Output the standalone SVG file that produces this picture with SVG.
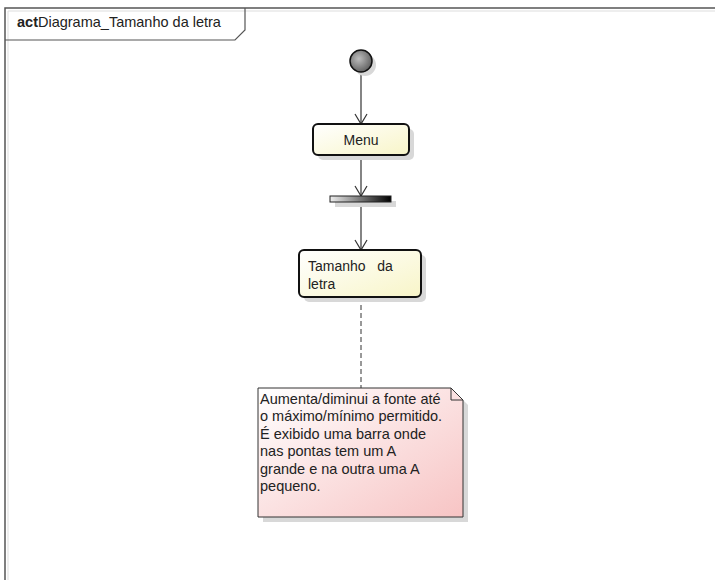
<svg xmlns="http://www.w3.org/2000/svg" width="715" height="580" viewBox="0 0 715 580">
  <style>
    text { font-family: "Liberation Sans", Arial, sans-serif; fill: #222; }
    .lbl { font-size: 14px; }
    .note-txt { font-size: 14.5px; }
    .flow { stroke: #333; stroke-width: 1.2; fill: none; }
    .shadow { fill: #d8d8d8; }
  </style>
  <defs>
    <linearGradient id="actFill" x1="0" y1="0" x2="1" y2="1">
      <stop offset="0" stop-color="#ffffff"/>
      <stop offset="1" stop-color="#f8f5c8"/>
    </linearGradient>
    <linearGradient id="noteFill" x1="0" y1="0" x2="1" y2="1">
      <stop offset="0" stop-color="#ffffff"/>
      <stop offset="1" stop-color="#f7c4c4"/>
    </linearGradient>
    <linearGradient id="forkFill" x1="0" y1="0" x2="1" y2="0">
      <stop offset="0" stop-color="#eeeeee"/>
      <stop offset="1" stop-color="#000000"/>
    </linearGradient>
    <radialGradient id="startFill" cx="0.4" cy="0.4" r="0.7">
      <stop offset="0" stop-color="#bdbdbd"/>
      <stop offset="1" stop-color="#555555"/>
    </radialGradient>
    <marker id="open" markerWidth="14" markerHeight="14" refX="11" refY="7" orient="auto" markerUnits="userSpaceOnUse">
      <path d="M1,1 L11,7 L1,13" fill="none" stroke="#333" stroke-width="1.2"/>
    </marker>
  </defs>

  <!-- diagram frame -->
  <g id="frame">
    <path d="M5,580 L5,8 L715,8" fill="none" stroke="#555" stroke-width="1.5"/>
    <path d="M8,580 L8,11 L715,11" fill="none" stroke="#ddd" stroke-width="1"/>
    <path d="M5,40 L235,40 L245,30 L245,8" fill="none" stroke="#555" stroke-width="1.2"/>
    <text x="17" y="27" font-size="14.5"><tspan font-weight="bold">act</tspan>Diagrama_Tamanho da letra</text>
  </g>

  <!-- connectors -->
  <g id="connectors">
    <line class="flow" x1="361" y1="72" x2="361" y2="124" marker-end="url(#open)"/>
    <line class="flow" x1="361" y1="155" x2="361" y2="196" marker-end="url(#open)"/>
    <line class="flow" x1="361" y1="202" x2="361" y2="250" marker-end="url(#open)"/>
    <line x1="361" y1="297" x2="361" y2="388" stroke="#333" stroke-width="1" stroke-dasharray="5,3"/>
  </g>

  <!-- initial node -->
  <g id="start">
    <circle class="shadow" cx="365" cy="65" r="11"/>
    <circle cx="361" cy="61" r="11" fill="url(#startFill)" stroke="#111" stroke-width="1.5"/>
  </g>

  <!-- Menu action -->
  <g id="menu">
    <rect class="shadow" x="318" y="129" width="96" height="31" rx="5"/>
    <rect x="313" y="124" width="96" height="31" rx="5" fill="url(#actFill)" stroke="#111" stroke-width="2"/>
    <text class="lbl" x="361" y="145" text-anchor="middle">Menu</text>
  </g>

  <!-- fork bar -->
  <g id="fork">
    <rect class="shadow" x="335" y="201" width="61" height="6"/>
    <rect x="330" y="196" width="61" height="6" fill="url(#forkFill)" stroke="#222" stroke-width="1"/>
  </g>

  <!-- Tamanho da letra action -->
  <g id="tamanho">
    <rect class="shadow" x="304" y="255" width="122" height="47" rx="5"/>
    <rect x="299" y="250" width="122" height="47" rx="5" fill="url(#actFill)" stroke="#111" stroke-width="2"/>
    <text class="lbl" x="308" y="271" xml:space="preserve">Tamanho   da</text>
    <text class="lbl" x="308" y="289">letra</text>
  </g>

  <!-- note -->
  <g id="note">
    <path class="shadow" d="M263,393 L456,393 L468,405 L468,522 L263,522 Z"/>
    <path d="M258,388 L451,388 L463,400 L463,517 L258,517 Z" fill="url(#noteFill)" stroke="#333" stroke-width="1"/>
    <path d="M451,388 L451,400 L463,400" fill="none" stroke="#333" stroke-width="1"/>
    <text class="note-txt" x="260" y="404">Aumenta/diminui a fonte até</text>
    <text class="note-txt" x="260" y="421">o máximo/mínimo permitido.</text>
    <text class="note-txt" x="260" y="439">É exibido uma barra onde</text>
    <text class="note-txt" x="260" y="456">nas pontas tem um A</text>
    <text class="note-txt" x="260" y="474">grande e na outra uma A</text>
    <text class="note-txt" x="260" y="491">pequeno.</text>
  </g>
</svg>
